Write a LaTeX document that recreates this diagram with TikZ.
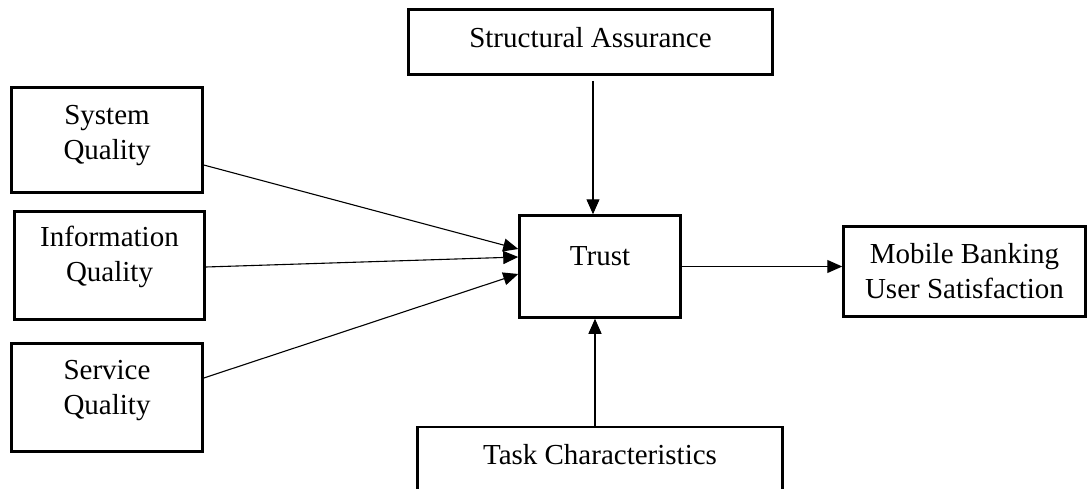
\documentclass[tikz,border=0pt]{standalone}
\usepackage{fontspec}
\setmainfont{Liberation Serif}
\usetikzlibrary{arrows.meta}

\begin{document}
\begin{tikzpicture}[x=1pt, y=-1pt,
    box/.style={rectangle, draw, line width=2.5pt, inner sep=0pt},
    txt/.style={align=center, font=\fontsize{29}{35}\selectfont},
    arr/.style={-{Triangle[length=15pt, width=13pt]}, line width=1.1pt}]
      \useasboundingbox (0,0) rectangle (1088,488);
      \clip (0,0) rectangle (1088,488);

      \node[box, minimum width=364pt, minimum height=65pt, label={[txt, yshift=4.5pt]center:Structural Assurance}] (sa) at (590.5,42) {};
      \node[box, minimum width=191pt, minimum height=105pt, label={[txt, yshift=4pt]center:System\\Quality}] (sys) at (107,140) {};
      \node[box, minimum width=190pt, minimum height=108pt, label={[txt, yshift=9pt]center:Information\\Quality}] (info) at (109.5,265.5) {};
      \node[box, minimum width=191pt, minimum height=108pt, label={[txt, yshift=6.5pt]center:Service\\Quality}] (serv) at (107,397.5) {};
      \node[box, minimum width=161pt, minimum height=102pt, label={[txt, yshift=10.5pt]center:Trust}] (trust) at (600,266.5) {};
      \node[box, minimum width=242pt, minimum height=90pt, label={[txt]center:Mobile Banking\\User Satisfaction}] (mbus) at (964.5,271.5) {};
      \node[box, minimum width=365pt, minimum height=66pt, label={[txt, yshift=5pt]center:Task Characteristics}] (task) at (600,460) {};

      \draw[arr] ([yshift=-25pt]sys.east) -- ([yshift=17.5pt]trust.west);
      \draw[arr] ([yshift=-1.5pt]info.east) -- ([yshift=9.5pt]trust.west);
      \draw[arr] ([yshift=19.5pt]serv.east) -- ([yshift=-7.5pt]trust.west);
      \draw[arr] ([xshift=2.5pt, yshift=-5pt]sa.south) -- ([xshift=-7pt]trust.north);
      \draw[arr] ([xshift=-5pt]task.north) -- ([xshift=-5pt]trust.south);
      \draw[arr] (trust.east) -- (trust.east -| mbus.west);
    \end{tikzpicture}
\end{document}
